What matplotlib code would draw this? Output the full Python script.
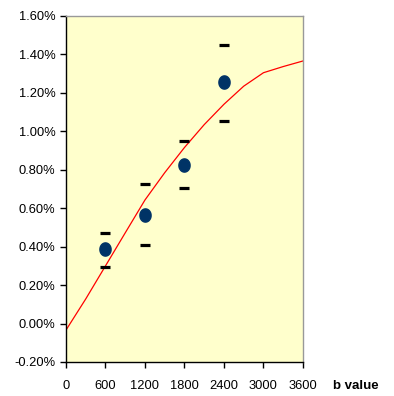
import matplotlib
matplotlib.use("Agg")
import matplotlib.pyplot as plt
import numpy as np
from matplotlib.path import Path
from matplotlib.ticker import FuncFormatter

# Data (values in %)
b_values = [600, 1200, 1800, 2400]
measured = [0.388, 0.565, 0.825, 1.257]
upper = [0.471, 0.726, 0.950, 1.449]
lower = [0.294, 0.409, 0.705, 1.054]

curve_b = [0, 300, 600, 900, 1200, 1500, 1800, 2100, 2400, 2700, 3000, 3300, 3600]
curve_v = [-0.034, 0.128, 0.300, 0.472, 0.643, 0.785, 0.916, 1.035, 1.141, 1.235, 1.305, 1.337, 1.366]

x_ticks = [0, 600, 1200, 1800, 2400, 3000, 3600]
y_ticks = [-0.2, 0.0, 0.2, 0.4, 0.6, 0.8, 1.0, 1.2, 1.4, 1.6]

plt.rcParams['font.family'] = ['Liberation Sans', 'DejaVu Sans']

fig = plt.figure(figsize=(3.94, 3.96), dpi=100)
ax = fig.add_axes([0.1675, 0.0859, 0.6015, 0.8737])
ax.set_facecolor('#FFFFCC')

ax.plot(curve_b, curve_v, color='#FF0000', lw=0.9, zorder=2)

# slightly tall ellipse marker
t = np.linspace(0, 2*np.pi, 60)
ell = Path(np.column_stack([np.cos(t), 1.18*np.sin(t)]))
ax.plot(b_values, measured, linestyle='none', marker=ell, ms=9.5,
        color='#003366', zorder=3)
ax.plot(b_values, upper, linestyle='none', marker='_', ms=6.5, mew=2.3,
        color='black', zorder=3)
ax.plot(b_values, lower, linestyle='none', marker='_', ms=6.5, mew=2.3,
        color='black', zorder=3)

ax.set_xlim(0, 3600)
ax.set_ylim(-0.2, 1.6)
ax.set_xticks(x_ticks)
ax.set_yticks(y_ticks)
ax.yaxis.set_major_formatter(FuncFormatter(lambda v, p: f"{v:.2f}%"))
ax.tick_params(axis='both', direction='out', length=4, width=1,
               labelsize=9.3, colors='black')
ax.tick_params(axis='x', pad=9)

for s in ['left', 'bottom']:
    ax.spines[s].set_color('black')
    ax.spines[s].set_linewidth(1)
for s in ['top', 'right']:
    ax.spines[s].set_color('#999999')
    ax.spines[s].set_linewidth(1)

fig.text(0.904, 0.017, 'b value', fontsize=9.5, fontweight='bold',
         ha='center', va='baseline')

fig.savefig('out.png', dpi=100)
